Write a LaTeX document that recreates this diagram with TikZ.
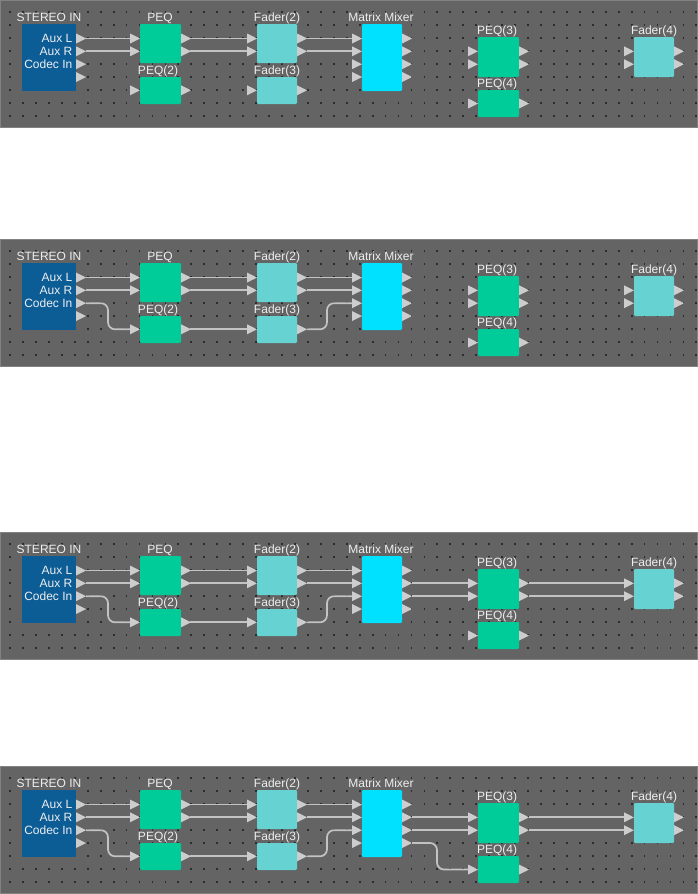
\documentclass[tikz,border=0pt]{standalone}
\usepackage{fontspec}
\setmainfont{Liberation Sans}
\definecolor{panelbg}{RGB}{100,100,100}
\definecolor{paneledge}{RGB}{130,130,130}
\definecolor{dotc}{RGB}{45,45,45}
\definecolor{stereoblue}{RGB}{12,92,150}
\definecolor{peqgreen}{RGB}{0,204,153}
\definecolor{faderteal}{RGB}{102,210,210}
\definecolor{mixercyan}{RGB}{0,225,255}
\definecolor{portgray}{RGB}{205,205,205}
\definecolor{wiregray}{RGB}{195,195,195}
\definecolor{labeltxt}{RGB}{238,238,238}
\tikzset{
  blk/.style={anchor=north west, inner sep=0pt, outer sep=0pt, rounded corners=1.2pt, draw=none},
  stereoblk/.style={blk, fill=stereoblue, rounded corners=0pt, minimum width=54pt, minimum height=67pt},
  peqblk/.style={blk, fill=peqgreen, minimum width=41pt},
  faderblk/.style={blk, fill=faderteal, minimum width=40pt},
  mixerblk/.style={blk, fill=mixercyan, minimum width=40pt, minimum height=67pt},
  ttl/.style={anchor=base, text=labeltxt, inner sep=0pt, font=\fontsize{12}{13}\selectfont},
  portlbl/.style={anchor=east, text=labeltxt, inner sep=0pt, font=\fontsize{12}{13}\selectfont},
  wire/.style={draw=wiregray, line width=1.7pt},
  bentwire/.style={wire, rounded corners=7pt},
}
\newcommand\outport[3]{\fill[portgray] (#2,#3-5) -- (#2+10,#3) -- (#2,#3+5) -- cycle;}
\newcommand\inport[3]{\fill[portgray] (#2-10,#3-5) -- (#2,#3) -- (#2-10,#3+5) -- cycle;}
\newcommand\drawpanel[3]{%
\begin{scope}[yshift=-#2pt]
  \fill[panelbg] (0,0) rectangle (698,128);
  \draw[paneledge, line width=1pt] (0.5,0.5) rectangle (697.5,127.5);
  \foreach \i in {0,...,53} {\foreach \j in {0,...,8} {%
    \fill[dotc] (10+12.95*\i-0.9,12+13*\j-0.9) rectangle ++(1.8,1.8);}}
  % blocks
  \node[stereoblk] (si#1) at (22,24) {};
  \node[ttl] (tsi#1) at (49,21.5) {STEREO IN};
  \node[portlbl] (la#1) at (72.5,38.5) {Aux L};
  \node[portlbl] (lb#1) at (72.5,51.3) {Aux R};
  \node[portlbl] (lc#1) at (72.5,64.2) {Codec In};
  \node[peqblk, minimum height=39pt] (peqa#1) at (140,24) {};
  \node[ttl] (tpeqa#1) at (160,21.5) {PEQ};
  \node[peqblk, minimum height=27pt] (peqb#1) at (140,77) {};
  \node[ttl] (tpeqb#1) at (158,74.8) {PEQ(2)};
  \node[faderblk, minimum height=39pt] (fa#1) at (257,24) {};
  \node[ttl] (tfa#1) at (277,21.5) {Fader(2)};
  \node[faderblk, minimum height=27pt] (fb#1) at (257,77) {};
  \node[ttl] (tfb#1) at (277,74.8) {Fader(3)};
  \node[mixerblk] (mm#1) at (362,24) {};
  \node[ttl] (tmm#1) at (381,21.5) {Matrix Mixer};
  \node[peqblk, minimum height=40pt] (peqc#1) at (478,37) {};
  \node[ttl] (tpeqc#1) at (497,34.8) {PEQ(3)};
  \node[peqblk, minimum height=27pt] (peqd#1) at (478,90) {};
  \node[ttl] (tpeqd#1) at (497,87.8) {PEQ(4)};
  \node[faderblk, minimum height=40pt] (fc#1) at (634,37) {};
  \node[ttl] (tfc#1) at (654,34.8) {Fader(4)};
  % port coordinates
  \coordinate (sio1#1) at (86,38.5); \coordinate (sio2#1) at (86,51.3);
  \coordinate (sio3#1) at (86,64.2);
  \coordinate (pai1#1) at (130,38.5); \coordinate (pai2#1) at (130,51.3);
  \coordinate (pao1#1) at (190,38.5); \coordinate (pao2#1) at (190,51.3);
  \coordinate (pbi#1) at (130,90.3); \coordinate (pbo#1) at (190,90.3);
  \coordinate (fai1#1) at (247,38.5); \coordinate (fai2#1) at (247,51.3);
  \coordinate (fao1#1) at (307,38.5); \coordinate (fao2#1) at (307,51.3);
  \coordinate (fbi#1) at (247,90.3); \coordinate (fbo#1) at (307,90.3);
  \coordinate (mmi1#1) at (352,38.5); \coordinate (mmi2#1) at (352,51.3);
  \coordinate (mmi3#1) at (352,64.2);
  \coordinate (mmo2#1) at (412,51.3); \coordinate (mmo3#1) at (412,64.2);
  \coordinate (mmo4#1) at (412,77);
  \coordinate (pci1#1) at (468,51.3); \coordinate (pci2#1) at (468,64.2);
  \coordinate (pco1#1) at (529,51.3); \coordinate (pco2#1) at (529,64.2);
  \coordinate (pdi#1) at (468,103.5);
  \coordinate (fci1#1) at (624,51.3); \coordinate (fci2#1) at (624,64.2);
  % wires
  \draw[wire] (sio1#1) -- (pai1#1);
  \draw[wire] (sio2#1) -- (pai2#1);
  \draw[wire] (pao1#1) -- (fai1#1);
  \draw[wire] (pao2#1) -- (fai2#1);
  \draw[wire] (fao1#1) -- (mmi1#1);
  \draw[wire] (fao2#1) -- (mmi2#1);
  \ifnum#3>1
    \draw[bentwire] (sio3#1) -- ++(22,0) |- (pbi#1);
    \draw[wire] (pbo#1) -- (fbi#1);
    \draw[bentwire] (fbo#1) -- ++(20,0) |- (mmi3#1);
  \fi
  \ifnum#3>2
    \draw[wire] (mmo2#1) -- (pci1#1);
    \draw[wire] (mmo3#1) -- (pci2#1);
    \draw[wire] (pco1#1) -- (fci1#1);
    \draw[wire] (pco2#1) -- (fci2#1);
  \fi
  \ifnum#3>3
    \draw[bentwire] (mmo4#1) -- ++(25,0) |- (pdi#1);
  \fi
  % port triangles
  \outport{}{76}{38.5}\outport{}{76}{51.3}\outport{}{76}{64.2}\outport{}{76}{77}
  \inport{}{140}{38.5}\inport{}{140}{51.3}\inport{}{140}{90.3}
  \outport{}{181}{38.5}\outport{}{181}{51.3}\outport{}{181}{90.3}
  \inport{}{257}{38.5}\inport{}{257}{51.3}\inport{}{257}{90.3}
  \outport{}{297}{38.5}\outport{}{297}{51.3}\outport{}{297}{90.3}
  \inport{}{362}{38.5}\inport{}{362}{51.3}\inport{}{362}{64.2}\inport{}{362}{77}
  \outport{}{402}{38.5}\outport{}{402}{51.3}\outport{}{402}{64.2}\outport{}{402}{77}
  \inport{}{478}{51.3}\inport{}{478}{64.2}\inport{}{478}{103.5}
  \outport{}{519}{51.3}\outport{}{519}{64.2}\outport{}{519}{103.5}
  \inport{}{634}{51.3}\inport{}{634}{64.2}
  \outport{}{674}{51.3}\outport{}{674}{64.2}
\end{scope}}
\begin{document}
\begin{tikzpicture}[x=1pt,y=-1pt]
  \useasboundingbox (0,0) rectangle (698,894);
  \drawpanel{A}{0}{1}
  \drawpanel{B}{239}{2}
  \drawpanel{C}{532}{3}
  \drawpanel{D}{766}{4}
\end{tikzpicture}
\end{document}
